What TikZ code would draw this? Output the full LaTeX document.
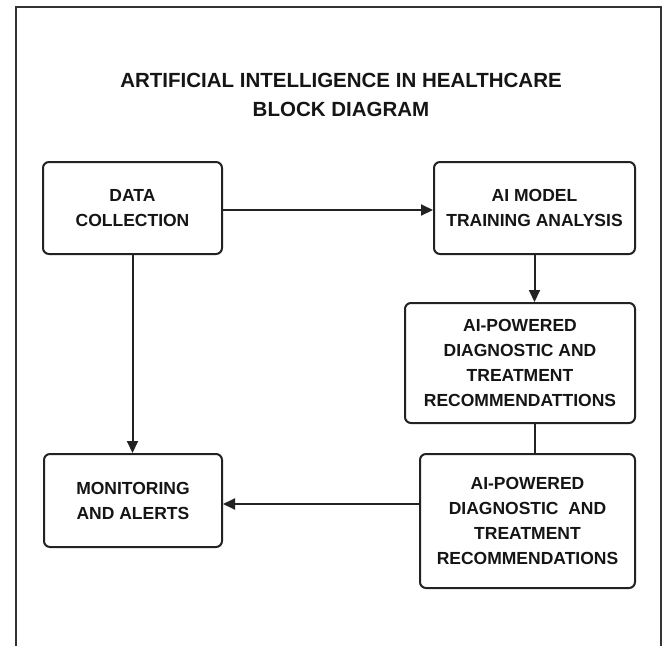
\documentclass[tikz,border=0pt]{standalone}
\usepackage{fontspec}
\setmainfont{Liberation Sans}
\usetikzlibrary{arrows.meta}
\definecolor{ink}{HTML}{222222}
\definecolor{lettering}{HTML}{151515}
\definecolor{framegray}{HTML}{333333}
\tikzset{
  blockbox/.style={draw=ink, line width=2pt, rounded corners=6pt, fill=white,
    align=center, font=\fontsize{17.5}{25}\selectfont\bfseries, text=lettering,
    inner sep=0pt, anchor=center},
  flow/.style={draw=ink, line width=2pt},
  flowarrow/.style={flow, -{Triangle[length=12pt,width=11pt]}},
  titletext/.style={font=\fontsize{20.5}{29}\selectfont\bfseries, text=lettering, align=center}
}
\begin{document}
\begin{tikzpicture}[x=1pt,y=-1pt]
  \useasboundingbox (0,0) rectangle (662,646);
  % page frame, open at the bottom
  \draw[framegray, line width=1.6pt] (16,646) -- (16,7) -- (661,7) -- (661,646);

  % title
  \node[titletext] (title) at (341,95) {ARTIFICIAL INTELLIGENCE IN HEALTHCARE\\BLOCK DIAGRAM};

  % blocks
  \node[blockbox, minimum width=179pt, minimum height=92pt] (collect) at (132.5,208) {DATA\\COLLECTION};
  \node[blockbox, minimum width=201pt, minimum height=92pt] (train) at (534.5,208) {AI MODEL\\TRAINING ANALYSIS};
  \node[blockbox, minimum width=230pt, minimum height=120pt] (recA) at (520,363) {AI-POWERED\\DIAGNOSTIC AND\\TREATMENT\\RECOMMENDATTIONS};
  \node[blockbox, minimum width=215pt, minimum height=134pt] (recB) at (527.5,521) {AI-POWERED\\DIAGNOSTIC\ \ AND\\TREATMENT\\RECOMMENDATIONS};
  \node[blockbox, minimum width=178pt, minimum height=93pt] (monitor) at (133,500.5) {MONITORING\\AND ALERTS};

  % connectors
  \coordinate (alertIn) at ([yshift=-3.5pt]monitor.east);
  \draw[flowarrow] ([yshift=-2pt]collect.east) -- ([yshift=-2pt]train.west);
  \draw[flowarrow] (train.south) -- (train.south |- recA.north);
  \draw[flow] (train.south |- recA.south) -- (train.south |- recB.north);
  \draw[flowarrow] (recB.west |- alertIn) -- (alertIn);
  \draw[flowarrow] (collect.south) -- (collect.south |- monitor.north);
\end{tikzpicture}
\end{document}
